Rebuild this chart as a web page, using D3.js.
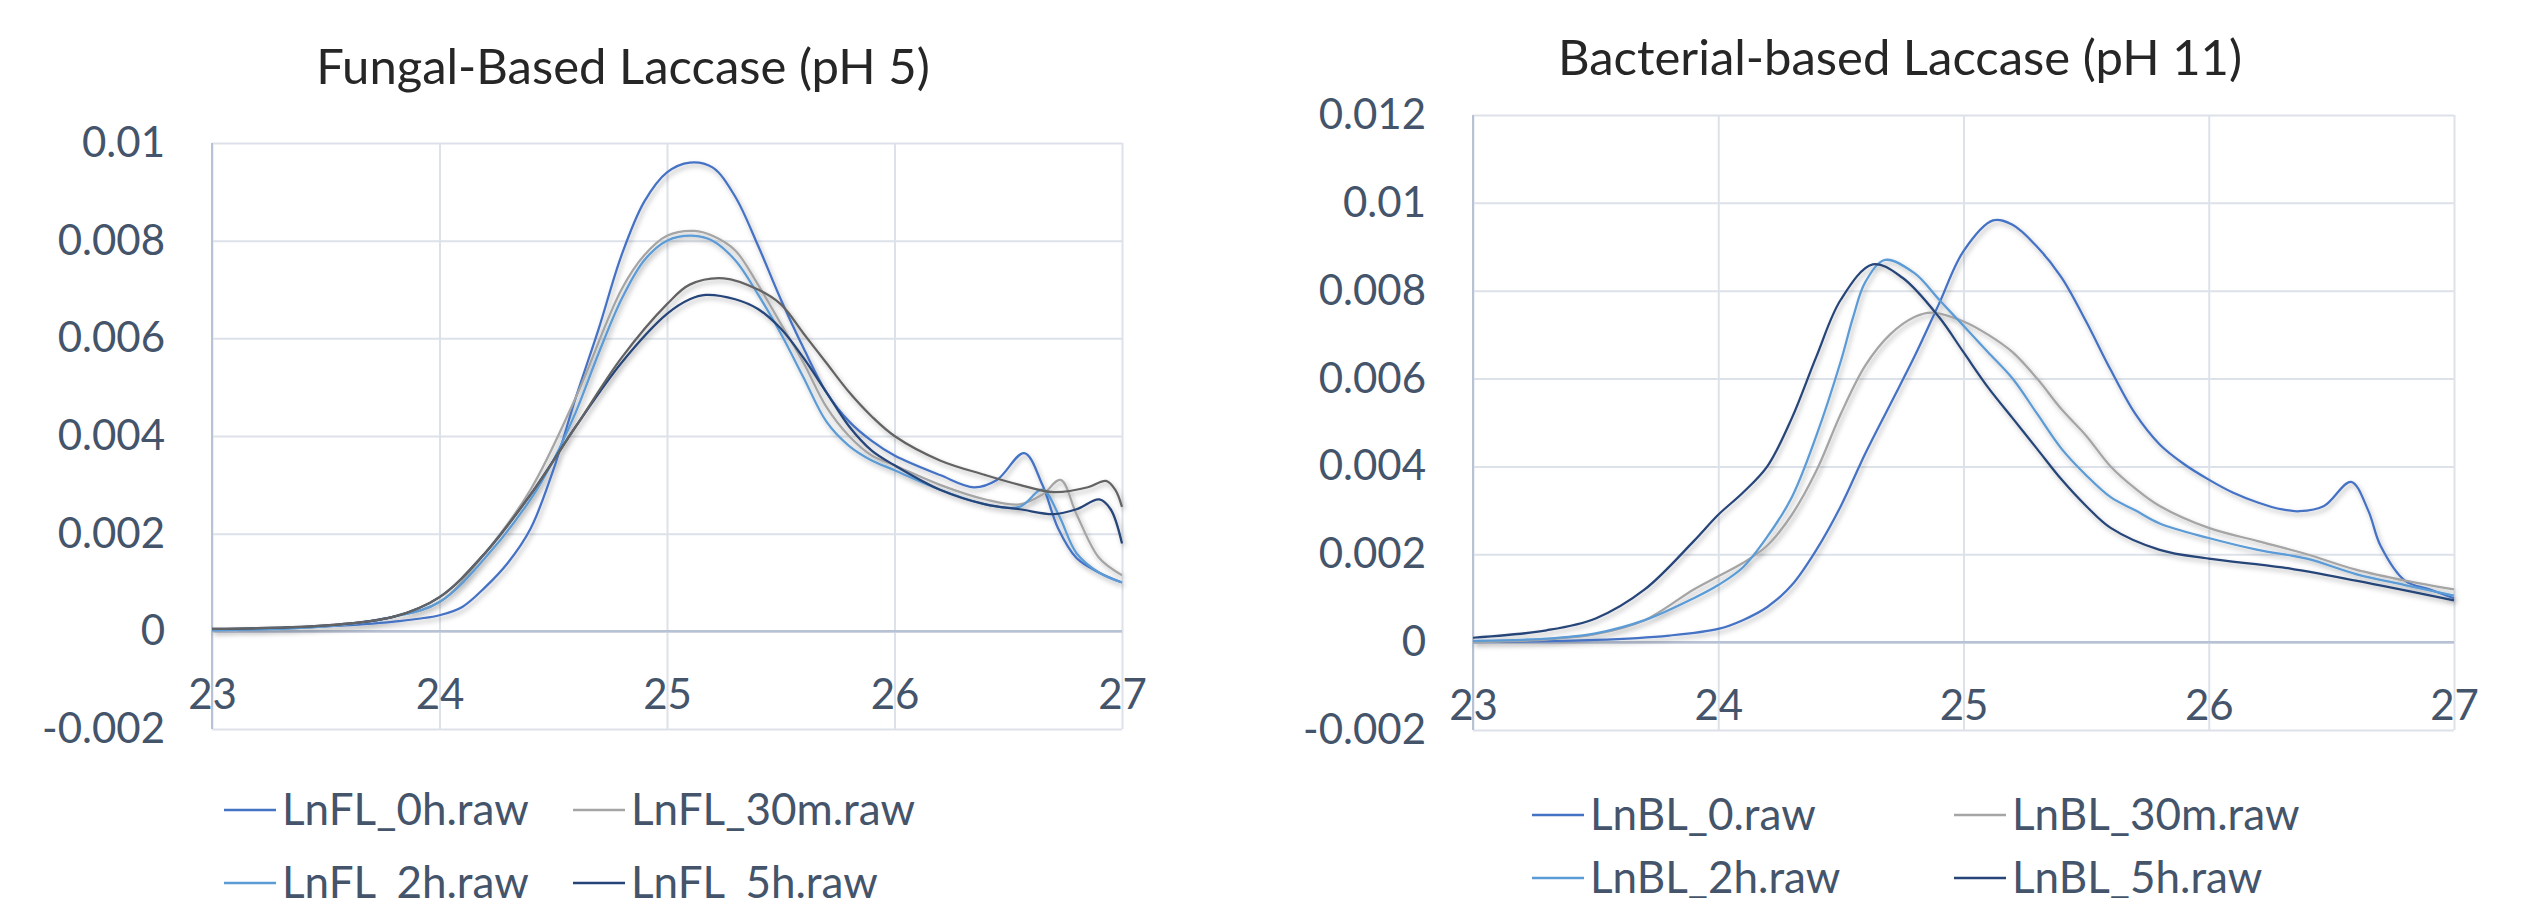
<!DOCTYPE html>
<html>
<head>
<meta charset="utf-8">
<script src="https://cdn.jsdelivr.net/npm/d3@7"></script>
<style>
  body { margin: 0; background: #fff; }
  text { font-family: Lato, "Open Sans", sans-serif; }
</style>
</head>
<body>
<script>
// tick values
let xTicks = [23, 24, 25, 26, 27];
let yTicksFungal = [-0.002, 0, 0.002, 0.004, 0.006, 0.008, 0.01];
let yTicksBacterial = [-0.002, 0, 0.002, 0.004, 0.006, 0.008, 0.01, 0.012];

// series names and colours (Excel palette)
let fungalNames = ["LnFL_0h.raw", "LnFL_30m.raw", "LnFL_2h.raw", "LnFL_5h.raw"];
let bacterialNames = ["LnBL_0.raw", "LnBL_30m.raw", "LnBL_2h.raw", "LnBL_5h.raw"];
let seriesColors = ["#4472C4", "#A5A5A5", "#5B9BD5", "#264478", "#636363"];

// Fungal-based laccase (pH 5) - [retention, signal]
let fl0h = [[23, 0.00003], [23.5, 0.0001], [23.8, 0.0002], [24.0, 0.00033], [24.1, 0.0005], [24.2, 0.0009],
    [24.3, 0.0014], [24.4, 0.0021], [24.5, 0.0033], [24.6, 0.0048], [24.7, 0.0062], [24.8, 0.0077],
    [24.9, 0.0088], [25.0, 0.0094], [25.1, 0.0096], [25.2, 0.0095], [25.3, 0.0089], [25.4, 0.0079],
    [25.5, 0.0068], [25.6, 0.0058], [25.7, 0.0049], [25.8, 0.0043], [25.9, 0.0039], [26.0, 0.0036],
    [26.2, 0.0032], [26.35, 0.00295], [26.45, 0.0031], [26.57, 0.00365], [26.65, 0.003], [26.72, 0.0021],
    [26.8, 0.0015], [26.9, 0.0012], [27, 0.001]];
let fl30m = [[23, 0.00002], [23.5, 0.0001], [23.8, 0.0003], [24.0, 0.0006], [24.2, 0.0016], [24.4, 0.0029],
    [24.6, 0.0048], [24.8, 0.007], [24.9, 0.0077], [25.0, 0.0081], [25.12, 0.0082], [25.2, 0.0081],
    [25.3, 0.0078], [25.4, 0.0071], [25.5, 0.0063], [25.6, 0.0055], [25.7, 0.0046], [25.8, 0.004],
    [25.9, 0.0036], [26.0, 0.0034], [26.2, 0.003], [26.4, 0.0027], [26.55, 0.0026], [26.65, 0.0028],
    [26.73, 0.0031], [26.8, 0.0024], [26.9, 0.0015], [27, 0.00115]];
let fl2h = [[23, 0.00002], [23.5, 0.0001], [23.8, 0.0003], [24.0, 0.0006], [24.2, 0.0015], [24.4, 0.0027],
    [24.5, 0.0035], [24.6, 0.0045], [24.7, 0.0057], [24.8, 0.0068], [24.9, 0.0076], [25.0, 0.008],
    [25.12, 0.0081], [25.2, 0.008], [25.3, 0.0076], [25.4, 0.0069], [25.5, 0.0061], [25.6, 0.0052],
    [25.7, 0.0043], [25.8, 0.0038], [25.9, 0.0035], [26.0, 0.0033], [26.2, 0.0029], [26.4, 0.0026],
    [26.55, 0.00255], [26.65, 0.0029], [26.72, 0.0024], [26.8, 0.0016], [26.9, 0.0012], [27, 0.001]];
let fl5h = [[23, 0.00005], [23.5, 0.00012], [23.8, 0.0003], [24.0, 0.0007], [24.2, 0.0016], [24.4, 0.0028],
    [24.6, 0.0042], [24.8, 0.0055], [25.0, 0.0065], [25.1, 0.0068], [25.17, 0.00689], [25.3, 0.0068],
    [25.4, 0.0066], [25.5, 0.0062], [25.6, 0.0056], [25.7, 0.0049], [25.8, 0.0042], [25.9, 0.0037],
    [26.0, 0.0034], [26.2, 0.0029], [26.4, 0.0026], [26.55, 0.0025], [26.7, 0.0024], [26.8, 0.0025],
    [26.9, 0.0027], [26.95, 0.0025], [27, 0.0018]];
let flExtra = [[23, 0.00005], [23.5, 0.00012], [23.8, 0.0003], [24.0, 0.0007], [24.2, 0.0016], [24.4, 0.0028],
    [24.6, 0.0042], [24.8, 0.0056], [25.0, 0.0067], [25.1, 0.0071], [25.25, 0.00723], [25.4, 0.007],
    [25.5, 0.0067], [25.6, 0.0061], [25.7, 0.0055], [25.8, 0.0049], [25.9, 0.0044], [26.0, 0.004],
    [26.2, 0.0035], [26.4, 0.0032], [26.55, 0.003], [26.7, 0.00285], [26.85, 0.00295], [26.93, 0.00308],
    [26.97, 0.0029], [27, 0.00255]];

// Bacterial-based laccase (pH 11)
let bl0 = [[23, 0.0], [23.5, 0.00005], [23.8, 0.00015], [24.0, 0.0003], [24.1, 0.0005], [24.2, 0.0008],
    [24.3, 0.0013], [24.4, 0.0021], [24.5, 0.0031], [24.6, 0.0043], [24.7, 0.0054], [24.8, 0.0065],
    [24.9, 0.0077], [25.0, 0.0089], [25.12, 0.0096], [25.2, 0.0095], [25.3, 0.009], [25.4, 0.0083],
    [25.5, 0.0073], [25.6, 0.0062], [25.7, 0.0052], [25.8, 0.0045], [25.9, 0.00405], [26.0, 0.0037],
    [26.1, 0.0034], [26.2, 0.00318], [26.3, 0.00302], [26.37, 0.00298], [26.47, 0.0031], [26.58, 0.00365],
    [26.65, 0.003], [26.7, 0.0022], [26.8, 0.0014], [26.9, 0.0012], [27, 0.001]];
let bl30m = [[23, 0.0], [23.3, 0.00006], [23.5, 0.00018], [23.7, 0.0005], [23.9, 0.0012], [24.0, 0.0015],
    [24.1, 0.0018], [24.2, 0.0022], [24.3, 0.0029], [24.4, 0.0039], [24.5, 0.0052], [24.6, 0.0063],
    [24.7, 0.007], [24.8, 0.0074], [24.87, 0.0075], [25.0, 0.0073], [25.1, 0.007], [25.2, 0.0066],
    [25.3, 0.006], [25.4, 0.0053], [25.5, 0.0047], [25.6, 0.004], [25.7, 0.0035], [25.8, 0.0031],
    [26.0, 0.0026], [26.2, 0.0023], [26.4, 0.002], [26.6, 0.00165], [26.8, 0.0014], [27, 0.0012]];
let bl2h = [[23, 0.00003], [23.3, 0.00008], [23.5, 0.0002], [23.7, 0.0005], [23.9, 0.001], [24.0, 0.0013],
    [24.1, 0.0017], [24.2, 0.0024], [24.3, 0.0033], [24.4, 0.0047], [24.5, 0.0064], [24.55, 0.0074],
    [24.6, 0.0082], [24.68, 0.0087], [24.8, 0.0084], [24.9, 0.0078], [25.0, 0.0072], [25.1, 0.0066],
    [25.2, 0.006], [25.3, 0.0052], [25.4, 0.0044], [25.5, 0.0038], [25.6, 0.0033], [25.7, 0.003],
    [25.8, 0.0027], [26.0, 0.00237], [26.2, 0.0021], [26.4, 0.0019], [26.6, 0.00155], [26.8, 0.0013],
    [27, 0.00106]];
let bl5h = [[23, 0.0001], [23.3, 0.00027], [23.5, 0.00054], [23.7, 0.0012], [23.9, 0.0023], [24.0, 0.0029],
    [24.1, 0.0034], [24.2, 0.004], [24.3, 0.0051], [24.4, 0.0065], [24.5, 0.0078], [24.63, 0.0086],
    [24.75, 0.0083], [24.9, 0.0074], [25.0, 0.0066], [25.1, 0.0058], [25.2, 0.0051], [25.3, 0.0044],
    [25.4, 0.0037], [25.5, 0.0031], [25.6, 0.0026], [25.8, 0.0021], [26.0, 0.0019], [26.3, 0.0017],
    [26.6, 0.0014], [27, 0.00095]];

let width = 2521;
let height = 898;

let svg = d3.select("body").append("svg")
    .attr("width", width)
    .attr("height", height)

// Excel style soft outer shadow under the lines
svg.append("defs").append("filter")
    .attr("id", "shadow")
    .attr("x", "-5%").attr("y", "-5%")
    .attr("width", "110%").attr("height", "120%")
    .append("feDropShadow")
    .attr("dx", 2).attr("dy", 3)
    .attr("stdDeviation", 2.5)
    .attr("flood-color", "#000")
    .attr("flood-opacity", 0.3)

drawChart({
    left: 212, right: 1122, top: 143, bottom: 729,
    yTicks: yTicksFungal,
    title: "Fungal-Based Laccase (pH 5)", titleX: 623, titleY: 84,
    series: [fl0h, fl30m, fl2h, fl5h, flExtra],
    names: fungalNames,
    legendX: [224, 573], legendY: [810, 883]
})

drawChart({
    left: 1473, right: 2454, top: 115, bottom: 730,
    yTicks: yTicksBacterial,
    title: "Bacterial-based Laccase (pH 11)", titleX: 1900, titleY: 75,
    series: [bl0, bl30m, bl2h, bl5h],
    names: bacterialNames,
    legendX: [1532, 1954], legendY: [815, 878]
})

function drawChart(c) {
    let x = d3.scaleLinear()
        .domain([d3.min(xTicks), d3.max(xTicks)])
        .range([c.left, c.right])

    let y = d3.scaleLinear()
        .domain([d3.min(c.yTicks), d3.max(c.yTicks)])
        .range([c.bottom, c.top])

    let g = svg.append("g")

    // horizontal gridlines
    g.append("g")
        .attr("transform", `translate(${c.left},0)`)
        .call(d3.axisLeft(y).tickValues(c.yTicks).tickSize(-(c.right - c.left)).tickFormat(""))
        .call(a => a.select(".domain").remove())
        .selectAll("line")
        .attr("stroke", "#dde2ea")
        .attr("stroke-width", 2)

    // vertical gridlines
    g.append("g")
        .attr("transform", `translate(0,${c.bottom})`)
        .call(d3.axisBottom(x).tickValues(xTicks).tickSize(-(c.bottom - c.top)).tickFormat(""))
        .call(a => a.select(".domain").remove())
        .selectAll("line")
        .attr("stroke", "#dde2ea")
        .attr("stroke-width", 2)

    // value axis line and zero line
    g.append("line")
        .attr("x1", c.left).attr("x2", c.left)
        .attr("y1", c.top).attr("y2", c.bottom)
        .attr("stroke", "#b7c2d4")
        .attr("stroke-width", 2)

    g.append("line")
        .attr("x1", c.left).attr("x2", c.right)
        .attr("y1", y(0)).attr("y2", y(0))
        .attr("stroke", "#b7c2d4")
        .attr("stroke-width", 2.5)

    // y tick labels (plain hyphen minus like Excel)
    g.append("g")
        .attr("transform", `translate(${c.left - 47},0)`)
        .call(d3.axisLeft(y).tickValues(c.yTicks).tickSize(0).tickPadding(0).tickFormat(d => String(+d.toFixed(3))))
        .call(a => a.select(".domain").remove())
        .selectAll("text")
        .attr("font-family", "Lato, sans-serif")
        .attr("font-size", 42)
        .attr("fill", "#44546A")

    // x tick labels, sitting under the zero line
    g.append("g")
        .attr("transform", `translate(0,${y(0) + 63})`)
        .call(d3.axisBottom(x).tickValues(xTicks).tickSize(0).tickPadding(0).tickFormat(d3.format("d")))
        .call(a => a.select(".domain").remove())
        .selectAll("text")
        .attr("dy", "0.35em")
        .attr("font-family", "Lato, sans-serif")
        .attr("font-size", 42)
        .attr("fill", "#44546A")

    let line = d3.line()
        .x(d => x(d[0]))
        .y(d => y(d[1]))
        .curve(d3.curveCatmullRom.alpha(0.5))

    g.append("g")
        .attr("filter", "url(#shadow)")
        .selectAll("path")
        .data(c.series)
        .enter()
        .append("path")
        .attr("d", line)
        .attr("fill", "none")
        .attr("stroke", (d, i) => seriesColors[i])
        .attr("stroke-width", 2.25)

    g.append("text")
        .attr("x", c.titleX)
        .attr("y", c.titleY)
        .attr("text-anchor", "middle")
        .attr("font-size", 49)
        .attr("fill", "#262626")
        .text(c.title)

    let legend = g.selectAll(".legend")
        .data(c.names)
        .enter()
        .append("g")
        .attr("transform", (d, i) => `translate(${c.legendX[i % 2]},${c.legendY[Math.floor(i / 2)]})`)

    legend.append("line")
        .attr("x1", 0).attr("x2", 52)
        .attr("stroke", (d, i) => seriesColors[i])
        .attr("stroke-width", 2.5)

    legend.append("text")
        .attr("x", 58)
        .attr("dy", "0.35em")
        .attr("font-size", 44)
        .attr("fill", "#44546A")
        .text(d => d)
}
</script>
</body>
</html>
